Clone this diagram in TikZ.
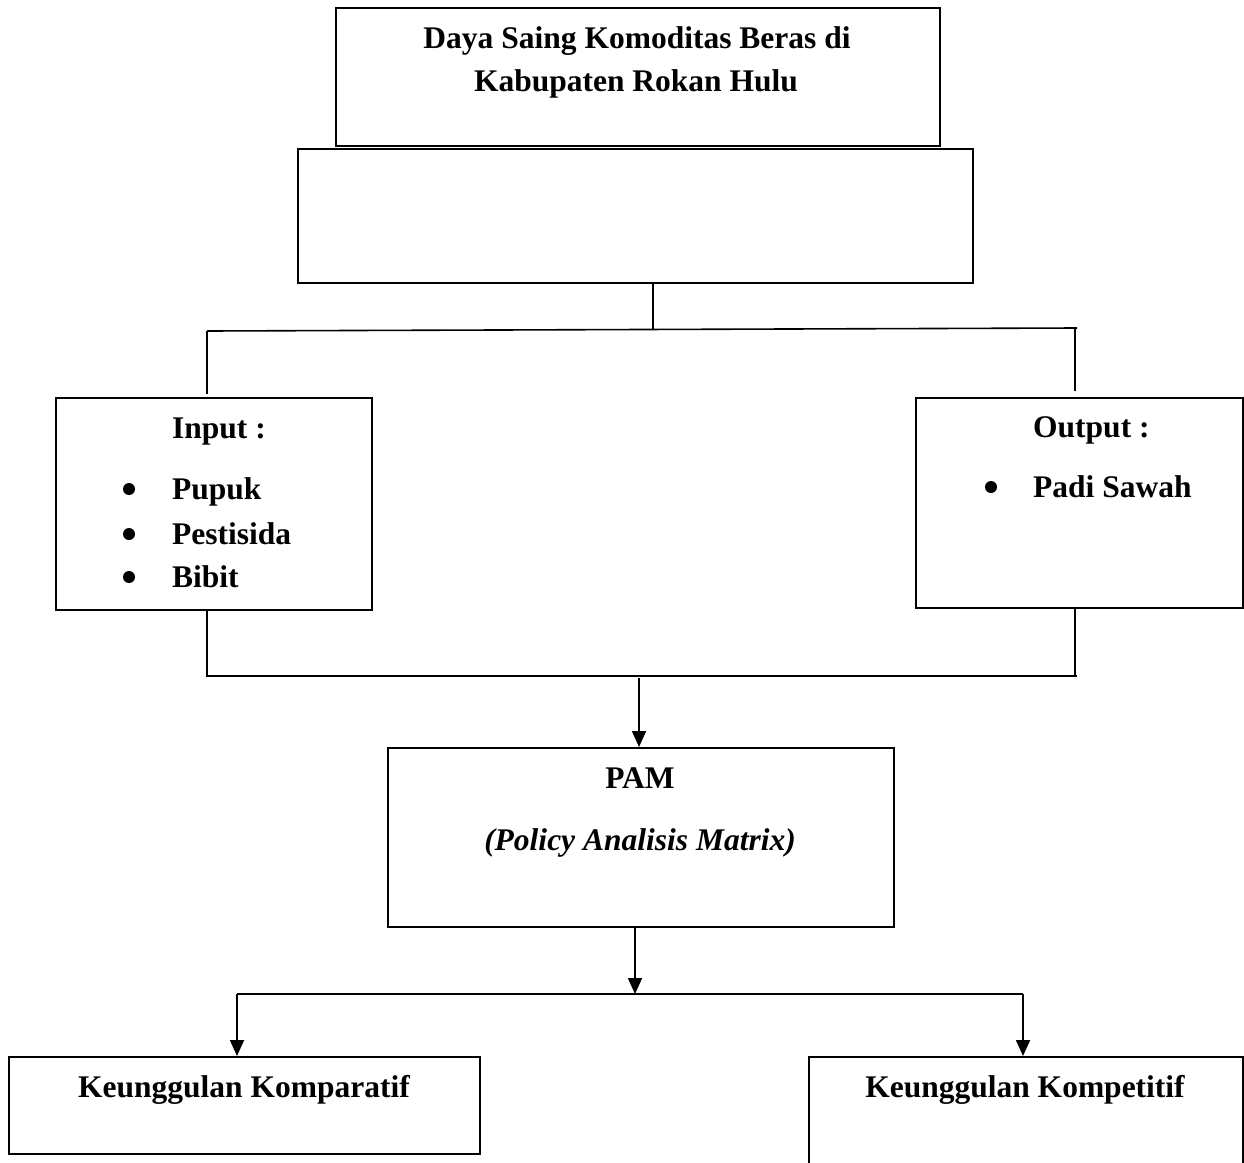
\documentclass[tikz,border=0pt]{standalone}
\usepackage{fontspec}
\setmainfont{Liberation Serif}
\usetikzlibrary{arrows.meta}
\begin{document}
\begin{tikzpicture}[x=1pt,y=-1pt,
  box/.style={draw, line width=2.2pt, inner sep=0pt, anchor=north west},
  lbl/.style={font=\fontsize{31.5}{38}\selectfont\bfseries, inner sep=0pt},
  conn/.style={line width=1.6pt},
  thinconn/.style={line width=1.1pt},
  arr/.style={line width=1.8pt, -{Triangle[length=16pt,width=14pt]}},
  dot/.style={circle, fill=black, inner sep=0pt, minimum size=12pt}]
\useasboundingbox (0,0) rectangle (1244,1162);

% boxes
\node[box, minimum width=604pt, minimum height=138pt] (top) at (335,7) {};
\node[box, minimum width=675pt, minimum height=134pt] (mid) at (297,148) {};
\node[box, minimum width=316pt, minimum height=212pt] (input) at (55,397) {};
\node[box, minimum width=327pt, minimum height=210pt] (output) at (915,397) {};
\node[box, minimum width=506pt, minimum height=179pt] (pam) at (387,747) {};
\node[box, minimum width=471pt, minimum height=97pt] (komp) at (8,1056) {};
\node[box, minimum width=434pt, minimum height=120pt] (kompet) at (808,1056) {};

% texts
\node[lbl, anchor=base] (t1) at (637,48) {Daya Saing Komoditas Beras di};
\node[lbl, anchor=base] (t2) at (636,91) {Kabupaten Rokan Hulu};

\node[lbl, anchor=base west] (in0) at (172,438) {Input :};
\node[lbl, anchor=base west] (in1) at (172,499) {Pupuk};
\node[lbl, anchor=base west] (in2) at (172,544) {Pestisida};
\node[lbl, anchor=base west] (in3) at (172,587) {Bibit};
\node[dot] (d1) at (129,489) {};
\node[dot] (d2) at (129,534) {};
\node[dot] (d3) at (129,577) {};

\node[lbl, anchor=base west] (out0) at (1033,437) {Output :};
\node[lbl, anchor=base west] (out1) at (1033,497) {Padi Sawah};
\node[dot] (d4) at (991,487) {};

\node[lbl, anchor=base] (pam1) at (640,788) {PAM};
\node[lbl, anchor=base] (pam2) at (640,850) {\itshape (Policy Analisis Matrix)};

\node[lbl, anchor=base] (k1) at (244,1097) {Keunggulan Komparatif};
\node[lbl, anchor=base] (k2) at (1025,1097) {Keunggulan Kompetitif};

% connectors
\coordinate (j1) at (653,329);
\coordinate (hl) at (207,331);
\coordinate (hr) at (1077,328);
\draw[thinconn] (mid.south -| j1) -- (j1);
\draw[conn] (hl) -- (hr);
\draw[conn, shorten >=3pt] (hl) -- (input.north -| hl);
\draw[conn, shorten >=6pt] ([xshift=-2pt]hr) -- (output.north -| 1075,0);

\coordinate (bl) at (207,676);
\coordinate (br) at (1077,676);
\draw[conn] (input.south -| bl) -- (bl) -- (br);
\draw[conn] (output.south -| 1075,0) -- (1075,676);

\coordinate (a1) at (639,678);
\draw[arr] (a1) -- (pam.north -| a1);

\coordinate (j2) at (635,994);
\draw[arr] (pam.south -| j2) -- (j2);

\coordinate (kl) at (237,994);
\coordinate (kr) at (1023,994);
\draw[conn] (kl) -- (kr);
\draw[arr] (kl) -- (komp.north -| kl);
\draw[arr] (kr) -- (kompet.north -| kr);
\end{tikzpicture}
\end{document}
